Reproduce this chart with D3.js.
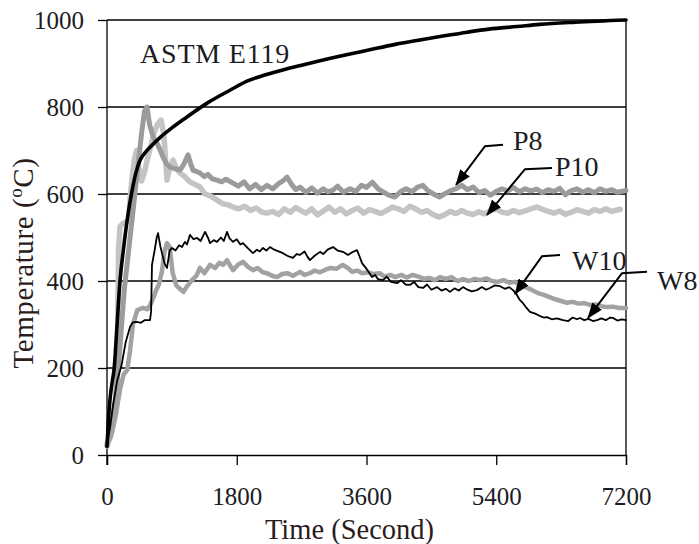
<!DOCTYPE html>
<html><head><meta charset="utf-8">
<script src="https://cdn.jsdelivr.net/npm/d3@7/dist/d3.min.js"></script>
<style>body{margin:0;background:#fff}svg{display:block}text{font-family:"Liberation Serif","Times New Roman",serif}</style>
</head><body><svg id="c" width="699" height="544"></svg>
<script>
const xTicks=[0,1800,3600,5400,7200];
const yTicks=[0,200,400,600,800,1000];
const astm=[[0,20],[20,80],[40,125],[70,165],[100,200],[140,300],[180,400],[230,475],[280,540],[350,610],[400,648],[460,678],[530,695],[600,708],[750,732],[900,752],[1100,776],[1400,810],[1700,838],[1950,860],[2200,874],[2500,888],[2800,900],[3100,912],[3370,922],[3600,930],[4000,944],[4300,953],[4660,963],[5000,972],[5300,979],[5690,985],[6000,990],[6500,995],[7200,1000]];
const p8=[[0,20],[60,60],[120,130],[180,250],[240,380],[300,470],[360,560],[400,620],[440,680],[480,740],[520,790],[555,800],[590,760],[624,740],[660,725],[694,717],[740,700],[777,685],[830,668],[874,662],[940,658],[1013,655],[1070,670],[1124,690],[1160,670],[1193,655],[1240,652],[1290,648],[1350,640],[1400,645],[1460,635],[1526,632],[1590,628],[1650,634],[1748,625],[1820,618],[1900,628],[1980,612],[2060,622],[2140,610],[2220,620],[2300,612],[2380,624],[2440,630],[2497,639],[2560,622],[2620,610],[2678,616],[2760,604],[2840,614],[2920,602],[3000,612],[3060,605],[3135,609],[3200,618],[3280,604],[3371,612],[3450,606],[3530,620],[3600,615],[3680,627],[3760,612],[3830,605],[3900,598],[3990,593],[4070,605],[4150,612],[4230,605],[4310,616],[4380,620],[4450,608],[4530,600],[4610,593],[4680,600],[4760,607],[4840,612],[4920,620],[5000,610],[5080,616],[5160,603],[5240,608],[5320,597],[5400,606],[5480,612],[5560,607],[5640,615],[5720,605],[5800,612],[5880,607],[5960,611],[6040,603],[6120,610],[6200,606],[6280,613],[6360,598],[6440,608],[6520,612],[6600,604],[6680,610],[6760,603],[6840,612],[6920,606],[7000,610],[7080,604],[7200,608]];
const p10=[[0,25],[60,60],[100,100],[140,170],[150,320],[160,470],[180,525],[220,532],[260,535],[300,540],[320,590],[350,640],[380,680],[410,700],[440,660],[480,630],[520,650],[560,680],[600,705],[650,740],[700,760],[750,770],[790,735],[832,632],[870,660],[916,678],[960,660],[1013,648],[1080,640],[1150,628],[1220,622],[1290,616],[1360,600],[1440,595],[1526,586],[1600,578],[1680,575],[1748,570],[1830,566],[1910,572],[1990,562],[2070,568],[2150,558],[2220,556],[2300,560],[2380,553],[2460,566],[2540,558],[2620,569],[2678,563],[2760,556],[2840,566],[2920,552],[3000,561],[3080,570],[3160,558],[3240,566],[3320,554],[3400,562],[3480,568],[3560,556],[3640,564],[3720,560],[3800,555],[3880,562],[3960,570],[4040,566],[4120,560],[4200,572],[4280,566],[4360,558],[4440,562],[4520,553],[4600,547],[4680,552],[4760,560],[4840,555],[4920,562],[5000,556],[5080,553],[5160,559],[5240,554],[5320,562],[5400,566],[5480,558],[5560,556],[5640,562],[5720,557],[5800,561],[5880,566],[5960,570],[6040,565],[6120,560],[6200,556],[6280,561],[6360,553],[6440,558],[6520,564],[6600,560],[6680,556],[6760,564],[6840,560],[6920,566],[7000,560],[7120,565]];
const w8=[[0,20],[60,45],[120,90],[180,150],[230,185],[280,195],[320,240],[360,300],[420,333],[500,338],[560,335],[600,345],[640,360],[680,378],[720,392],[760,420],[800,470],[832,487],[870,478],[910,420],[960,390],[1000,384],[1060,375],[1120,390],[1180,402],[1240,412],[1290,430],[1350,418],[1430,437],[1500,430],[1560,442],[1610,437],[1665,448],[1710,435],[1748,425],[1820,438],[1887,444],[1960,432],[2025,425],[2090,430],[2160,420],[2220,418],[2290,412],[2360,409],[2430,416],[2500,418],[2580,412],[2678,421],[2740,414],[2816,418],[2880,424],[2955,420],[3030,426],[3100,430],[3180,428],[3270,437],[3340,430],[3400,421],[3470,424],[3540,418],[3620,420],[3700,416],[3780,418],[3850,410],[3930,414],[4000,409],[4080,414],[4160,408],[4240,414],[4320,410],[4400,405],[4470,407],[4550,402],[4620,409],[4700,405],[4780,409],[4860,400],[4940,404],[5020,400],[5100,405],[5180,402],[5260,406],[5340,400],[5420,398],[5500,402],[5580,396],[5660,398],[5740,390],[5820,385],[5900,379],[5980,372],[6060,368],[6140,363],[6220,358],[6300,354],[6380,350],[6460,352],[6540,348],[6620,349],[6700,345],[6780,346],[6860,342],[6940,340],[7020,341],[7100,338],[7200,338]];
const w10=[[0,25],[40,60],[80,110],[140,170],[200,205],[260,260],[320,295],[360,305],[416,306],[470,304],[520,310],[597,310],[612,330],[624,437],[660,470],[690,500],[708,510],[740,480],[763,464],[800,440],[832,430],[870,470],[902,476],[950,470],[1000,482],[1040,478],[1080,490],[1110,484],[1151,506],[1200,496],[1249,499],[1300,492],[1360,513],[1400,500],[1429,487],[1480,494],[1526,490],[1580,500],[1620,492],[1665,513],[1700,498],[1748,490],[1800,496],[1850,484],[1887,487],[1950,476],[2025,464],[2080,472],[2120,468],[2164,476],[2210,470],[2261,478],[2320,472],[2380,468],[2442,464],[2500,458],[2580,453],[2630,462],[2678,460],[2740,468],[2780,456],[2816,448],[2880,458],[2955,467],[3000,462],[3060,472],[3135,478],[3200,470],[3274,467],[3343,460],[3400,466],[3468,471],[3500,458],[3538,441],[3600,428],[3676,409],[3720,414],[3760,404],[3829,402],[3880,410],[3940,398],[4023,395],[4080,402],[4140,392],[4204,391],[4260,398],[4320,386],[4384,384],[4440,392],[4500,380],[4578,386],[4640,378],[4700,382],[4758,375],[4820,383],[4880,378],[4939,386],[5000,380],[5060,376],[5133,379],[5200,386],[5260,380],[5313,384],[5380,390],[5452,388],[5520,382],[5580,386],[5632,379],[5680,370],[5720,358],[5771,349],[5820,338],[5868,329],[5940,325],[6000,320],[6060,316],[6104,317],[6170,312],[6240,314],[6326,310],[6400,308],[6460,316],[6520,312],[6562,315],[6620,310],[6680,313],[6740,308],[6798,310],[6860,314],[6920,310],[6980,316],[7020,315],[7080,309],[7140,312],[7200,310]];
// annotations: label, text anchor point [t,T], arrow path points [t,T]
const labels=["P8","P10","W10","W8"];
const labelPos=[[5632,701],[6215,641],[6451,425],[7630,379]];
const arrowPaths=[[[5494,713],[5244,710],[4842,621]],[[6173,660],[5799,657],[5272,552]],[[6285,460],[6035,457],[5660,370]],[[7491,421],[7145,418],[6673,315]]];

const svg=d3.select("#c");
const x=d3.scaleLinear().domain([0,7200]).range([107,626]);
const y=d3.scaleLinear().domain([0,1000]).range([455,20]);
const ink="#1c1c24";

// gridlines
svg.append("g").selectAll("line").data(yTicks.filter(d=>d>0)).join("line")
  .attr("x1",x(0)).attr("x2",x(7200)).attr("y1",d=>y(d)).attr("y2",d=>y(d))
  .attr("stroke","#000").attr("stroke-width",1.3);
// right border
svg.append("line").attr("x1",x(7200)).attr("x2",x(7200)).attr("y1",y(1000)).attr("y2",y(0)).attr("stroke","#000").attr("stroke-width",1.3);

const yAxis=svg.append("g").attr("transform",`translate(${x(0)},0)`)
  .call(d3.axisLeft(y).tickValues(yTicks).tickSize(9).tickPadding(14).tickFormat(d3.format("d")));
const xAxis=svg.append("g").attr("transform",`translate(0,${y(0)})`)
  .call(d3.axisBottom(x).tickValues(xTicks).tickSize(10).tickPadding(22).tickFormat(d3.format("d")));
[yAxis,xAxis].forEach(a=>{
  a.select(".domain").attr("stroke","#000").attr("stroke-width",1.3);
  a.selectAll(".tick line").attr("stroke","#000").attr("stroke-width",1.3);
  a.selectAll(".tick text").attr("fill",ink).style("font-size","25px").style("font-family","Liberation Serif");
});
yAxis.select(".domain").attr("d",`M0,${y(1000)}V${y(0)+10}`);

const line=d3.line().x(d=>x(d[0])).y(d=>y(d[1])).curve(d3.curveLinear);
const smooth=d3.line().x(d=>x(d[0])).y(d=>y(d[1])).curve(d3.curveMonotoneX);
const series=[
  {d:p10,c:"#c4c4c4",w:5.5,g:line},
  {d:p8,c:"#9b9b9b",w:5,g:line},
  {d:w8,c:"#a2a2a2",w:4.5,g:line},
  {d:w10,c:"#000",w:1.8,g:line},
  {d:astm,c:"#000",w:3.6,g:smooth}
];
svg.append("g").selectAll("path").data(series).join("path")
  .attr("d",s=>s.g(s.d)).attr("fill","none").attr("stroke",s=>s.c).attr("stroke-width",s=>s.w)
  .attr("stroke-linejoin","round").attr("stroke-linecap","round");

// arrows
svg.append("defs").append("marker").attr("id","ah").attr("viewBox","0 0 16 12")
  .attr("refX",15).attr("refY",6).attr("markerWidth",16).attr("markerHeight",12)
  .attr("markerUnits","userSpaceOnUse").attr("orient","auto")
  .append("path").attr("d","M0,0L16,6L0,12Z").attr("fill","#000");
svg.append("g").selectAll("path").data(arrowPaths).join("path")
  .attr("d",p=>line(p)).attr("fill","none").attr("stroke","#000").attr("stroke-width",2)
  .attr("marker-end","url(#ah)");
svg.append("g").selectAll("text").data(labels).join("text")
  .attr("x",(d,i)=>x(labelPos[i][0])).attr("y",(d,i)=>y(labelPos[i][1]))
  .attr("fill",ink).style("font-size","28px").text(d=>d);
svg.append("text").attr("x",x(458)).attr("y",y(901)).attr("fill",ink).style("font-size","28px")
  .style("letter-spacing","0.8px").text("ASTM E119");

// axis titles
svg.append("text").attr("x",(x(0)+x(7200))/2-17).attr("y",539).attr("text-anchor","middle")
  .attr("fill","#2b1c1c").style("font-size","28.5px").text("Time (Second)");
const yt=svg.append("text").attr("transform","translate(33,263) rotate(-90)").attr("text-anchor","middle")
  .attr("fill","#2b1c1c").style("font-size","29px").style("letter-spacing","0.6px");
yt.append("tspan").text("Temperature (");
yt.append("tspan").attr("dy",-11).style("font-size","19px").text("o");
yt.append("tspan").attr("dy",11).text("C)");
</script></body></html>
